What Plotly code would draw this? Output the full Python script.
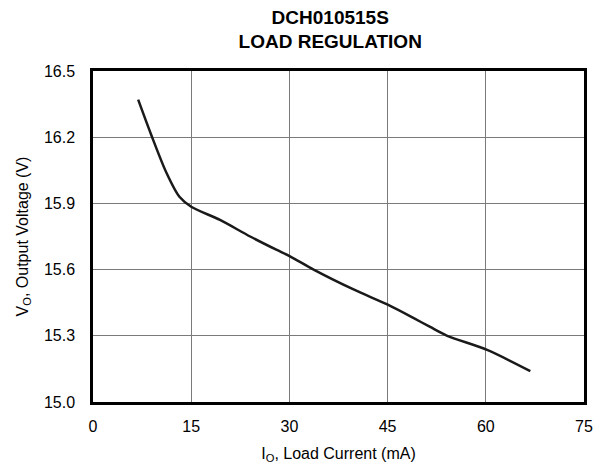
import plotly.graph_objects as go

current_ma = [6.9, 8.9, 11.2, 13.2, 15.0, 19.4, 24.0, 28.0, 30.1, 33.7, 39.8, 45.1, 49.0, 51.5, 54.1, 60.2, 66.8]
voltage_v = [16.37, 16.21, 16.04, 15.93, 15.885, 15.825, 15.75, 15.69, 15.66, 15.60, 15.51, 15.44, 15.38, 15.34, 15.30, 15.236, 15.14]

x_ticks = [0, 15, 30, 45, 60, 75]
y_ticks = [15.0, 15.3, 15.6, 15.9, 16.2, 16.5]

fig = go.Figure()
fig.add_trace(go.Scatter(x=current_ma, y=voltage_v, mode="lines",
                         line=dict(color="#1a1a1a", width=2.5, shape="spline", smoothing=0.8),
                         showlegend=False))

font = "Liberation Sans, Arial, sans-serif"
fig.update_layout(
    width=595, height=472,
    margin=dict(l=93, r=11, t=71, b=70, autoexpand=False),
    paper_bgcolor="white", plot_bgcolor="white",
    font=dict(family=font, size=16, color="black"),
    title=dict(text="<b>DCH010515S<br>LOAD REGULATION</b>", x=0.555, xanchor="center",
               y=0.95, yanchor="top", font=dict(size=19, family=font)),
)
fig.update_xaxes(range=[0, 75], tickvals=x_ticks, ticktext=[str(v) for v in x_ticks],
                 showgrid=True, gridcolor="#7a7a7a", gridwidth=1,
                 showline=True, linecolor="black", linewidth=2.5, mirror=True,
                 ticks="", zeroline=False, tickfont=dict(size=16), automargin=False,
                 ticklabelstandoff=8,
                 title=dict(text="I<sub>O</sub>, Load Current (mA)", font=dict(size=16), standoff=14))
fig.update_yaxes(range=[15.0, 16.5], tickvals=y_ticks, ticktext=[f"{v:.1f}" for v in y_ticks],
                 showgrid=True, gridcolor="#7a7a7a", gridwidth=1,
                 showline=True, linecolor="black", linewidth=2.5, mirror=True,
                 ticks="", zeroline=False, tickfont=dict(size=16), automargin=False,
                 ticklabelstandoff=12,
                 title=dict(text="V<sub>O</sub>, Output Voltage (V)", font=dict(size=16), standoff=12))

fig.write_html("out.html", config={"displayModeBar": False},
               post_script="document.body.style.margin='0';")
